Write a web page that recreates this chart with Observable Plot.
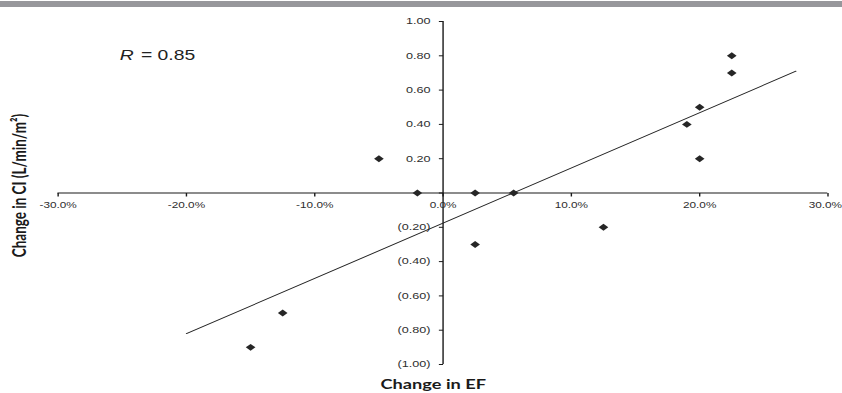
<!DOCTYPE html>
<html><head><meta charset="utf-8">
<script src="https://cdn.jsdelivr.net/npm/d3@7"></script>
<script src="https://cdn.jsdelivr.net/npm/@observablehq/plot@0.6"></script>
<style>
html,body{margin:0;padding:0;background:#fff;}
#wrap{position:relative;width:842px;height:393px;overflow:hidden;}
#bar{position:absolute;left:0;top:1px;width:842px;height:6px;background:#97979b;}
</style></head><body>
<div id="wrap"><div id="bar"></div><div id="chart"></div></div>
<script>
// Data
const efChange = [-15, -12.5, -5, -2, 2.5, 2.5, 5.5, 12.5, 19, 20, 20, 22.5, 22.5];
const ciChange = [-0.9, -0.7, 0.2, 0, 0, -0.3, 0, -0.2, 0.4, 0.5, 0.2, 0.7, 0.8];
const trendEF = [-20, 27.5];
const trendCI = [-0.82, 0.71];
const xTicks = [-30, -20, -10, 0, 10, 20, 30];
const xTickLabels = ["-30.0%", "-20.0%", "-10.0%", "0.0%", "10.0%", "20.0%", "30.0%"];
const yTicks = [1, 0.8, 0.6, 0.4, 0.2, 0, -0.2, -0.4, -0.6, -0.8, -1];
const yTickLabels = ["1.00", "0.80", "0.60", "0.40", "0.20", "", "(0.20)", "(0.40)", "(0.60)", "(0.80)", "(1.00)"];
const annoText = ["R", "= 0.85"];
const annoX = [-25.2, -23.55];
const annoY = [0.8, 0.8];
const xTitle = "Change in EF";
const yTitle = "Change in CI (L/min/m²)";

const points = efChange.map((x, i) => ({x, y: ciChange[i]}));
const trend = trendEF.map((x, i) => ({x, y: trendCI[i]}));
const xt = xTicks.map((v, i) => ({v, label: xTickLabels[i]}));
const yt = yTicks.map((v, i) => ({v, label: yTickLabels[i]}));
const anno = annoText.map((t, i) => ({t, x: annoX[i], y: annoY[i]}));

const W = 601; // drawn narrow, then stretched horizontally like the source image
const tickDown = {draw(ctx) { ctx.moveTo(0, 0); ctx.lineTo(0, 3.5); }};
const tickLeft = {draw(ctx) { ctx.moveTo(0, 0); ctx.lineTo(-3, 0); }};
const axisColor = "#1a1a1a";
const titleFont = "Lato, 'Open Sans', sans-serif";

const chart = Plot.plot({
  width: W, height: 393,
  marginLeft: 41, marginRight: 10.5, marginTop: 21, marginBottom: 29,
  x: {domain: [-30, 30], axis: null},
  y: {domain: [-1, 1], axis: null},
  style: {fontFamily: "'Liberation Sans', Arial, sans-serif", fontSize: "9px", color: "#333", background: "transparent", overflow: "visible"},
  marks: [
    Plot.ruleY([0], {x1: () => xTicks[0], x2: () => xTicks[xTicks.length - 1], stroke: axisColor, strokeWidth: 1}),
    Plot.ruleX([0], {y1: () => -1, y2: () => 1, stroke: axisColor, strokeWidth: 1}),
    Plot.dot(xt, {x: "v", y: () => 0, symbol: tickDown, fill: "none", stroke: axisColor, strokeWidth: 1}),
    Plot.dot(yt, {x: () => 0, y: "v", symbol: tickLeft, fill: "none", stroke: axisColor, strokeWidth: 1}),
    Plot.text(xt.slice(0, -1), {x: "v", y: () => 0, text: "label", dy: 12, fontSize: 8.4, lineAnchor: "middle", fill: "#2e2e2e"}),
    Plot.text(xt.slice(-1), {x: "v", y: () => 0, text: "label", dy: 12, dx: 10, fontSize: 8.4, textAnchor: "end", lineAnchor: "middle", fill: "#2e2e2e"}),
    Plot.text(yt.filter(d => d.label), {x: () => 0, y: "v", text: "label", textAnchor: "end", dx: -9, lineAnchor: "middle", fill: "#2e2e2e"}),
    Plot.line(trend, {x: "x", y: "y", stroke: "#222", strokeWidth: 0.9}),
    Plot.dot(points, {x: "x", y: "y", symbol: "diamond2", r: 3.1, fill: "#262626", stroke: "none"}),
    Plot.text(anno.slice(0, 1), {x: "x", y: "y", text: "t", textAnchor: "start", lineAnchor: "middle", fontSize: 13.8, fontStyle: "italic", fill: "#222"}),
    Plot.text(anno.slice(1), {x: "x", y: "y", text: "t", textAnchor: "start", lineAnchor: "middle", fontSize: 13.8, fill: "#222"}),
    Plot.text([xTitle], {frameAnchor: "bottom", text: d => d, textAnchor: "middle", lineAnchor: "middle", dx: -7, dy: 20, fontFamily: titleFont, fontWeight: 700, fontSize: 13, fill: "#1a1a1a"}),
    Plot.text([yTitle], {frameAnchor: "left", text: d => d, rotate: -90, textAnchor: "middle", lineAnchor: "middle", dx: -27, dy: -7.5, fontFamily: titleFont, fontWeight: 700, fontSize: 13.5, fill: "#1a1a1a"})
  ]
});
chart.setAttribute("width", 842);
chart.setAttribute("height", 393);
chart.setAttribute("preserveAspectRatio", "none");
chart.style.width = "842px";
chart.style.height = "393px";
chart.style.maxWidth = "none";
document.getElementById("chart").appendChild(chart);
</script>
</body></html>
